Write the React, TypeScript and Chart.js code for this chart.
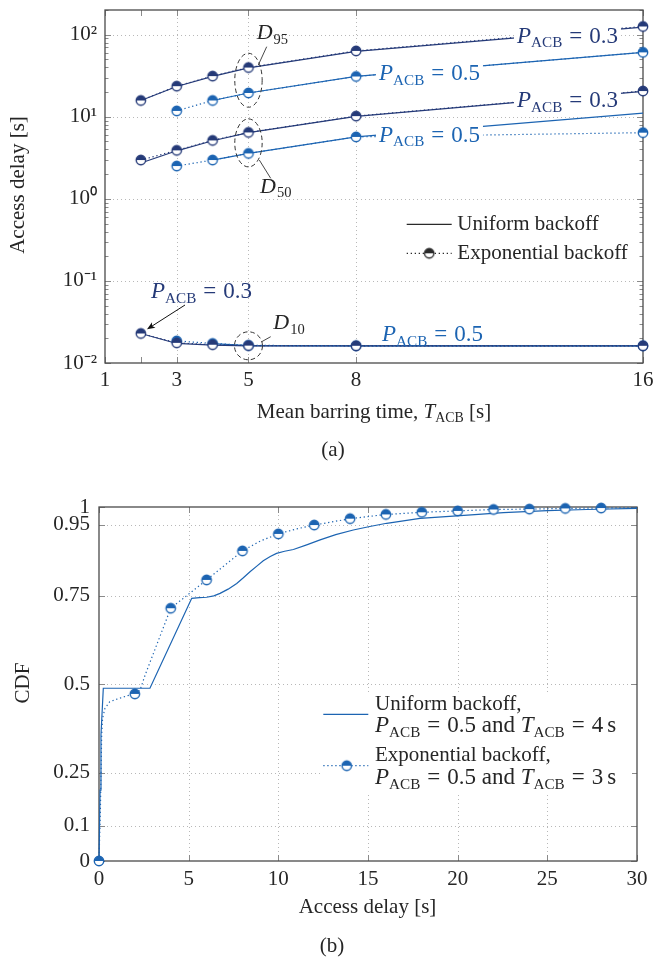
import { useEffect, useRef } from 'react';
import { Chart, registerables } from 'chart.js';

Chart.register(...registerables);

const NAVY = '#253a78';
const BLUE = '#1c64b2';
const INK = '#262626';
const GRID = '#b8b8b8';
const TICK = '#8a8a8a';
const FRAME = '#4a4a4a';
const FONT = '"Liberation Serif", "Times New Roman", serif';
const DOT = [1.3, 2.7];
const MATH = 23;

// ---------------- (a) data ----------------
const tAcbP03 = [2, 3, 4, 5, 8, 16];
const tAcbP05Exp = [3, 4, 5, 8, 16];
const tAcbP05Uni = [4, 5, 8, 16];
const d95P03Uni = [15.8, 23.4, 31, 39.5, 62.8, 124];
const d95P03Exp = [15.8, 23.6, 31.3, 39.8, 63.5, 126];
const d50P03Uni = [2.73, 3.85, 5.1, 6.4, 10.1, 20.4];
const d50P03Exp = [2.97, 3.9, 5.15, 6.45, 10.2, 20.6];
const d10P03Uni = [0.0229, 0.0173, 0.0165, 0.0162, 0.0162, 0.0162];
const d10P03Exp = [0.0229, 0.0176, 0.0167, 0.0163, 0.0162, 0.0162];
const d95P05Exp = [11.8, 15.8, 19.5, 31, 61];
const d95P05Uni = [15.8, 19.5, 31, 61];
const d50P05Exp = [2.51, 2.97, 3.58, 5.69, 6.4];
const d50P05Uni = [2.97, 3.58, 5.69, 11.1];
const d10P05Exp = [0.0186, 0.0173, 0.0164, 0.0162, 0.0162];
const d10P05Uni = [0.0172, 0.0163, 0.0162, 0.0162];

const xTicksA = [1, 3, 5, 8, 16];
const xTickMarksA = [1, 2, 3, 5, 8, 16];
const yMajorA = [0.01, 0.1, 1, 10, 100];
const yTickLabelsA = ['10⁻²', '10⁻¹', '10⁰', '10¹', '10²'];
const yMinA = 0.01;
const yMaxA = 200;

// ---------------- (b) data ----------------
const cdfXTicks = [0, 5, 10, 15, 20, 25, 30];
const cdfYTicks = [0, 0.1, 0.25, 0.5, 0.75, 0.95, 1];
const cdfYTickLabels = ['0', '0.1', '0.25', '0.5', '0.75', '0.95', '1'];
const uniDelay = [0, 0.06, 0.11, 0.24, 2.84, 5.17, 5.6, 6.0, 6.4, 6.75, 7.2, 7.68, 8.05, 8.42, 8.8, 9.16, 9.55, 9.9, 10.35, 10.84, 11.58, 12.33, 13.2, 14.18, 15.1, 16.04, 17.9, 19.95, 22.55, 25, 27.2, 30];
const uniCdf = [0, 0.2, 0.356, 0.488, 0.488, 0.742, 0.744, 0.745, 0.749, 0.756, 0.768, 0.784, 0.8, 0.817, 0.833, 0.848, 0.86, 0.869, 0.875, 0.88, 0.893, 0.907, 0.922, 0.935, 0.945, 0.954, 0.968, 0.975, 0.984, 0.99, 0.993, 0.996];
const expDelay = [0, 0.08, 0.15, 0.2, 0.33, 0.6, 1.1, 1.6, 2, 2.29, 2.57, 4, 6, 8, 9, 10, 11, 12, 14, 16, 18, 20, 22, 24, 26, 28, 30];
const expCdf = [0, 0.15, 0.356, 0.403, 0.431, 0.45, 0.459, 0.467, 0.472, 0.483, 0.525, 0.714, 0.794, 0.876, 0.904, 0.924, 0.938, 0.949, 0.967, 0.979, 0.985, 0.989, 0.993, 0.994, 0.996, 0.997, 0.998];
const expMarkDelay = [0, 2, 4, 6, 8, 10, 12, 14, 16, 18, 20, 22, 24, 26, 28];
const expMarkCdf = [0, 0.472, 0.714, 0.794, 0.876, 0.924, 0.949, 0.967, 0.979, 0.985, 0.989, 0.993, 0.994, 0.996, 0.997];

// ---------------- helpers ----------------
type Run = { t: string; it?: boolean; sub?: boolean; l?: number; r?: number };

function makeMarker(color: string): HTMLCanvasElement {
  const r = 4.7;
  const s = 14;
  const c = document.createElement('canvas');
  c.width = s;
  c.height = s;
  const g = c.getContext('2d')!;
  const cx = s / 2;
  const cy = s / 2;
  g.fillStyle = '#fff';
  g.beginPath();
  g.arc(cx, cy, r, 0, Math.PI * 2);
  g.fill();
  g.fillStyle = color;
  g.beginPath();
  g.arc(cx, cy, r, Math.PI, Math.PI * 2);
  g.closePath();
  g.fill();
  g.strokeStyle = color;
  g.lineWidth = 1.4;
  g.beginPath();
  g.arc(cx, cy, r, 0, Math.PI * 2);
  g.stroke();
  return c;
}

function runFont(ctx: CanvasRenderingContext2D, run: Run, size: number) {
  const fs = run.sub ? size * 0.66 : size;
  ctx.font = `${run.it ? 'italic ' : ''}${fs}px ${FONT}`;
}

function runsWidth(ctx: CanvasRenderingContext2D, runs: Run[], size: number) {
  let w = 0;
  for (const r of runs) {
    runFont(ctx, r, size);
    w += (r.l || 0) + ctx.measureText(r.t).width + (r.r || 0);
  }
  return w;
}

function drawRuns(
  ctx: CanvasRenderingContext2D,
  runs: Run[],
  x: number,
  y: number,
  size: number,
  color: string,
  bg = false,
  align: 'left' | 'center' = 'left'
) {
  const w = runsWidth(ctx, runs, size);
  let cx = align === 'center' ? x - w / 2 : x;
  if (bg) {
    ctx.fillStyle = '#fff';
    ctx.fillRect(cx - 3, y - size * 0.78, w + 6, size * 1.05);
  }
  ctx.fillStyle = color;
  ctx.textAlign = 'left';
  ctx.textBaseline = 'alphabetic';
  for (const r of runs) {
    runFont(ctx, r, size);
    cx += r.l || 0;
    ctx.fillText(r.t, cx, y + (r.sub ? size * 0.2 : 0));
    cx += ctx.measureText(r.t).width + (r.r || 0);
  }
  return w;
}

const pRuns = (v: string): Run[] => [
  { t: 'P', it: true },
  { t: 'ACB', sub: true },
  { t: '=', l: 7, r: 7 },
  { t: v },
];
const dRuns = (q: string): Run[] => [{ t: 'D', it: true }, { t: q, sub: true, l: 1 }];

function strokeLine(ctx: CanvasRenderingContext2D, x1: number, y1: number, x2: number, y2: number) {
  ctx.beginPath();
  ctx.moveTo(x1, y1);
  ctx.lineTo(x2, y2);
  ctx.stroke();
}

function drawAxesDecor(
  chart: any,
  xGrid: number[],
  yGrid: number[],
  xMarks: { v: number; len: number }[],
  yMarks: { v: number; len: number }[]
) {
  const { ctx, chartArea: a } = chart;
  const xs = chart.scales.x;
  const ys = chart.scales.y;
  ctx.save();
  ctx.lineWidth = 1;
  ctx.strokeStyle = GRID;
  ctx.setLineDash([1, 3]);
  for (const v of xGrid) {
    const p = Math.round(xs.getPixelForValue(v)) + 0.5;
    if (p > a.left + 2 && p < a.right - 2) strokeLine(ctx, p, a.top, p, a.bottom);
  }
  for (const v of yGrid) {
    const p = Math.round(ys.getPixelForValue(v)) + 0.5;
    if (p > a.top + 2 && p < a.bottom - 2) strokeLine(ctx, a.left, p, a.right, p);
  }
  ctx.setLineDash([]);
  ctx.strokeStyle = TICK;
  for (const m of xMarks) {
    const p = Math.round(xs.getPixelForValue(m.v)) + 0.5;
    strokeLine(ctx, p, a.bottom, p, a.bottom - m.len);
    strokeLine(ctx, p, a.top, p, a.top + m.len);
  }
  for (const m of yMarks) {
    const p = Math.round(ys.getPixelForValue(m.v)) + 0.5;
    strokeLine(ctx, a.left, p, a.left + m.len, p);
    strokeLine(ctx, a.right, p, a.right - m.len, p);
  }
  ctx.strokeStyle = FRAME;
  ctx.lineWidth = 1.3;
  ctx.strokeRect(a.left, a.top, a.right - a.left, a.bottom - a.top);
  ctx.restore();
}

function series(xs: number[], ys: number[], color: string, dotted: boolean, marker?: HTMLCanvasElement, showLine = true) {
  return {
    data: xs.map((x, i) => ({ x, y: ys[i] })),
    borderColor: color,
    backgroundColor: color,
    borderWidth: 1.2,
    borderDash: dotted ? DOT : [],
    pointRadius: marker ? 5 : 0,
    pointHoverRadius: marker ? 5 : 0,
    pointStyle: marker ?? 'circle',
    tension: 0,
    showLine,
    clip: false,
  };
}

const tickFont = { family: FONT, size: 21 };

// ---------------- chart (a) ----------------
function configA(navyM: HTMLCanvasElement, blueM: HTMLCanvasElement, blackM: HTMLCanvasElement): any {
  const yMinor: number[] = [];
  for (const d of yMajorA) for (let m = 2; m <= 9; m++) if (d * m <= yMaxA) yMinor.push(d * m);

  const decor = {
    id: 'decorA',
    beforeDatasetsDraw(chart: any) {
      drawAxesDecor(
        chart,
        xTicksA,
        yMajorA,
        xTickMarksA.map((v) => ({ v, len: 6 })),
        [...yMajorA.map((v) => ({ v, len: 6 })), ...yMinor.map((v) => ({ v, len: 3.5 }))]
      );
    },
    afterDraw(chart: any) {
      const { ctx } = chart;
      const xs = chart.scales.x;
      const ys = chart.scales.y;
      ctx.save();
      // dashed ellipses around T_ACB = 5 s
      const ex = xs.getPixelForValue(5);
      const e95 = (ys.getPixelForValue(d95P03Exp[3]) + ys.getPixelForValue(d95P05Exp[2])) / 2;
      const e50 = (ys.getPixelForValue(d50P03Exp[3]) + ys.getPixelForValue(d50P05Exp[2])) / 2;
      const e10 = ys.getPixelForValue(d10P03Uni[3]);
      ctx.strokeStyle = '#333';
      ctx.lineWidth = 1;
      ctx.setLineDash([4.5, 3]);
      ctx.beginPath();
      ctx.ellipse(ex, e95, 13.7, 27, 0, 0, Math.PI * 2);
      ctx.stroke();
      ctx.beginPath();
      ctx.ellipse(ex, e50, 13.7, 24, 0, 0, Math.PI * 2);
      ctx.stroke();
      ctx.beginPath();
      ctx.ellipse(ex, e10, 14, 14, 0, 0, Math.PI * 2);
      ctx.stroke();
      ctx.setLineDash([]);
      ctx.lineWidth = 0.9;
      strokeLine(ctx, 258.3, 65, 266.7, 46.7);
      strokeLine(ctx, 259.3, 160, 270.7, 178.3);
      strokeLine(ctx, 261.7, 341.7, 270.7, 336.7);
      // arrow to P_ACB = 0.3 (D10)
      ctx.strokeStyle = '#111';
      ctx.lineWidth = 1;
      const ax0 = 185, ay0 = 305, ax1 = 147, ay1 = 329.3;
      const ang = Math.atan2(ay1 - ay0, ax1 - ax0);
      strokeLine(ctx, ax0, ay0, ax1 - 5 * Math.cos(ang), ay1 - 5 * Math.sin(ang));
      ctx.fillStyle = '#111';
      ctx.beginPath();
      ctx.moveTo(ax1, ay1);
      ctx.lineTo(ax1 - 8 * Math.cos(ang) + 3.2 * Math.sin(ang), ay1 - 8 * Math.sin(ang) - 3.2 * Math.cos(ang));
      ctx.lineTo(ax1 - 6 * Math.cos(ang), ay1 - 6 * Math.sin(ang));
      ctx.lineTo(ax1 - 8 * Math.cos(ang) - 3.2 * Math.sin(ang), ay1 - 8 * Math.sin(ang) + 3.2 * Math.cos(ang));
      ctx.closePath();
      ctx.fill();

      // labels
      drawRuns(ctx, pRuns('0.3'), 517, 42.5, MATH, NAVY, true);
      drawRuns(ctx, pRuns('0.5'), 379, 80, MATH, BLUE, true);
      drawRuns(ctx, pRuns('0.3'), 517, 107.3, MATH, NAVY, true);
      drawRuns(ctx, pRuns('0.5'), 379, 141.7, MATH, BLUE, true);
      drawRuns(ctx, pRuns('0.5'), 382, 341, MATH, BLUE);
      drawRuns(ctx, pRuns('0.3'), 151, 298.3, MATH, NAVY);
      drawRuns(ctx, dRuns('95'), 256.7, 39.3, 22, INK);
      drawRuns(ctx, dRuns('50'), 260, 192.7, 22, INK);
      drawRuns(ctx, dRuns('10'), 273.3, 329.3, 22, INK);

      // legend
      ctx.strokeStyle = '#2a2a2a';
      ctx.lineWidth = 1.2;
      strokeLine(ctx, 406.7, 224.3, 451.7, 224.3);
      ctx.setLineDash(DOT);
      strokeLine(ctx, 406.7, 253.3, 451.7, 253.3);
      ctx.setLineDash([]);
      ctx.drawImage(blackM, 429.2 - 7, 253.3 - 7);
      drawRuns(ctx, [{ t: 'Uniform backoff' }], 457.3, 230, 21, INK);
      drawRuns(ctx, [{ t: 'Exponential backoff' }], 457.3, 259, 21, INK);

      // axis titles and caption
      ctx.save();
      ctx.translate(18, 185);
      ctx.rotate(-Math.PI / 2);
      ctx.font = `21px ${FONT}`;
      ctx.fillStyle = INK;
      ctx.textAlign = 'center';
      ctx.textBaseline = 'middle';
      ctx.fillText('Access delay [s]', 0, 0);
      ctx.restore();
      drawRuns(
        ctx,
        [{ t: 'Mean barring time, ' }, { t: 'T', it: true }, { t: 'ACB', sub: true }, { t: ' [s]' }],
        374,
        418,
        21,
        INK,
        false,
        'center'
      );
      drawRuns(ctx, [{ t: '(a)' }], 333, 456, 21, INK, false, 'center');
      ctx.restore();
    },
  };

  return {
    type: 'line',
    data: {
      datasets: [
        series(tAcbP03, d95P03Exp, NAVY, true, navyM),
        series(tAcbP03, d50P03Exp, NAVY, true, navyM),
        series(tAcbP03, d10P03Exp, NAVY, true, navyM),
        series(tAcbP05Exp, d95P05Exp, BLUE, true, blueM),
        series(tAcbP05Exp, d50P05Exp, BLUE, true, blueM),
        series(tAcbP05Exp, d10P05Exp, BLUE, true, blueM),
        series(tAcbP03, d95P03Uni, NAVY, false),
        series(tAcbP03, d50P03Uni, NAVY, false),
        series(tAcbP03, d10P03Uni, NAVY, false),
        series(tAcbP05Uni, d95P05Uni, BLUE, false),
        series(tAcbP05Uni, d50P05Uni, BLUE, false),
        series(tAcbP05Uni, d10P05Uni, BLUE, false),
      ],
    },
    options: {
      responsive: false,
      animation: false,
      devicePixelRatio: 1,
      events: [],
      layout: { padding: { left: 0, right: 10, top: 10, bottom: 0 } },
      plugins: { legend: { display: false }, tooltip: { enabled: false } },
      scales: {
        x: {
          type: 'linear',
          min: 1,
          max: 16,
          grid: { display: false, drawTicks: false },
          border: { display: false },
          afterBuildTicks: (s: any) => {
            s.ticks = xTicksA.map((v) => ({ value: v }));
          },
          afterFit: (s: any) => {
            s.height = 112;
            s.paddingLeft = 0;
            s.paddingRight = 0;
          },
          ticks: {
            autoSkip: false,
            maxRotation: 0,
            padding: 5,
            color: INK,
            font: tickFont,
            callback: (v: number) => String(v),
          },
        },
        y: {
          type: 'logarithmic',
          min: yMinA,
          max: yMaxA,
          grid: { display: false, drawTicks: false },
          border: { display: false },
          afterBuildTicks: (s: any) => {
            s.ticks = [...yMajorA, ...yMinor].sort((p, q) => p - q).map((v) => ({ value: v }));
          },
          afterFit: (s: any) => {
            s.width = 105;
            s.paddingTop = 0;
            s.paddingBottom = 0;
          },
          ticks: {
            autoSkip: false,
            padding: 8,
            color: INK,
            font: tickFont,
            callback: (v: number) => {
              const i = yMajorA.indexOf(v);
              return i >= 0 ? yTickLabelsA[i] : '';
            },
          },
        },
      },
    },
    plugins: [decor],
  };
}

// ---------------- chart (b) ----------------
function configB(blueM: HTMLCanvasElement): any {
  const decor = {
    id: 'decorB',
    beforeDatasetsDraw(chart: any) {
      drawAxesDecor(
        chart,
        cdfXTicks,
        cdfYTicks,
        cdfXTicks.map((v) => ({ v, len: 6 })),
        cdfYTicks.map((v) => ({ v, len: 6 }))
      );
    },
    afterDraw(chart: any) {
      const { ctx } = chart;
      ctx.save();
      // legend
      ctx.fillStyle = '#fff';
      ctx.fillRect(320, 217, 312, 100);
      ctx.strokeStyle = BLUE;
      ctx.lineWidth = 1.2;
      strokeLine(ctx, 323.3, 239.3, 368.3, 239.3);
      ctx.setLineDash(DOT);
      strokeLine(ctx, 323.3, 290.7, 368.3, 290.7);
      ctx.setLineDash([]);
      ctx.drawImage(blueM, 346.7 - 7, 290.7 - 7);
      drawRuns(ctx, [{ t: 'Uniform backoff,' }], 375, 235, 21, INK);
      drawRuns(
        ctx,
        [...pRuns('0.5'), { t: ' and ' }, { t: 'T', it: true }, { t: 'ACB', sub: true }, { t: '=', l: 7, r: 7 }, { t: '4' }, { t: 's', l: 4 }],
        375,
        257.3,
        MATH,
        INK
      );
      drawRuns(ctx, [{ t: 'Exponential backoff,' }], 375, 286, 21, INK);
      drawRuns(
        ctx,
        [...pRuns('0.5'), { t: ' and ' }, { t: 'T', it: true }, { t: 'ACB', sub: true }, { t: '=', l: 7, r: 7 }, { t: '3' }, { t: 's', l: 4 }],
        375,
        309,
        MATH,
        INK
      );
      // axis titles and caption
      ctx.save();
      ctx.translate(23, 208);
      ctx.rotate(-Math.PI / 2);
      ctx.font = `21px ${FONT}`;
      ctx.fillStyle = INK;
      ctx.textAlign = 'center';
      ctx.textBaseline = 'middle';
      ctx.fillText('CDF', 0, 0);
      ctx.restore();
      drawRuns(ctx, [{ t: 'Access delay [s]' }], 367.5, 438, 21, INK, false, 'center');
      drawRuns(ctx, [{ t: '(b)' }], 332, 477, 21, INK, false, 'center');
      ctx.restore();
    },
  };

  return {
    type: 'line',
    data: {
      datasets: [
        series(expMarkDelay, expMarkCdf, BLUE, false, blueM, false),
        series(uniDelay, uniCdf, BLUE, false),
        series(expDelay, expCdf, BLUE, true),
      ],
    },
    options: {
      responsive: false,
      animation: false,
      devicePixelRatio: 1,
      events: [],
      layout: { padding: { left: 0, right: 16, top: 32, bottom: 0 } },
      plugins: { legend: { display: false }, tooltip: { enabled: false } },
      scales: {
        x: {
          type: 'linear',
          min: 0,
          max: 30,
          grid: { display: false, drawTicks: false },
          border: { display: false },
          afterBuildTicks: (s: any) => {
            s.ticks = cdfXTicks.map((v) => ({ value: v }));
          },
          afterFit: (s: any) => {
            s.height = 102;
            s.paddingLeft = 0;
            s.paddingRight = 0;
          },
          ticks: {
            autoSkip: false,
            maxRotation: 0,
            padding: 6,
            color: INK,
            font: tickFont,
            callback: (v: number) => String(v),
          },
        },
        y: {
          type: 'linear',
          min: 0,
          max: 1,
          grid: { display: false, drawTicks: false },
          border: { display: false },
          afterBuildTicks: (s: any) => {
            s.ticks = cdfYTicks.map((v) => ({ value: v }));
          },
          afterFit: (s: any) => {
            s.width = 99;
            s.paddingTop = 0;
            s.paddingBottom = 0;
          },
          ticks: {
            autoSkip: false,
            padding: 9,
            color: INK,
            font: tickFont,
            callback: (v: number) => {
              const i = cdfYTicks.indexOf(v);
              return i >= 0 ? cdfYTickLabels[i] : '';
            },
          },
        },
      },
    },
    plugins: [decor],
  };
}

export default function App() {
  const refA = useRef<HTMLCanvasElement>(null);
  const refB = useRef<HTMLCanvasElement>(null);
  useEffect(() => {
    const navyM = makeMarker(NAVY);
    const blueM = makeMarker(BLUE);
    const blackM = makeMarker('#2a2a2a');
    const ca = new Chart(refA.current!, configA(navyM, blueM, blackM));
    const cb = new Chart(refB.current!, configB(blueM));
    return () => {
      ca.destroy();
      cb.destroy();
    };
  }, []);
  return (
    <div style={{ position: 'absolute', left: 0, top: 0, width: 653, height: 963, background: '#fff' }}>
      <canvas
        ref={refA}
        width={653}
        height={475}
        style={{ position: 'absolute', left: 0, top: 0, width: 653, height: 475, display: 'block' }}
      />
      <canvas
        ref={refB}
        width={653}
        height={488}
        style={{ position: 'absolute', left: 0, top: 475, width: 653, height: 488, display: 'block' }}
      />
    </div>
  );
}
